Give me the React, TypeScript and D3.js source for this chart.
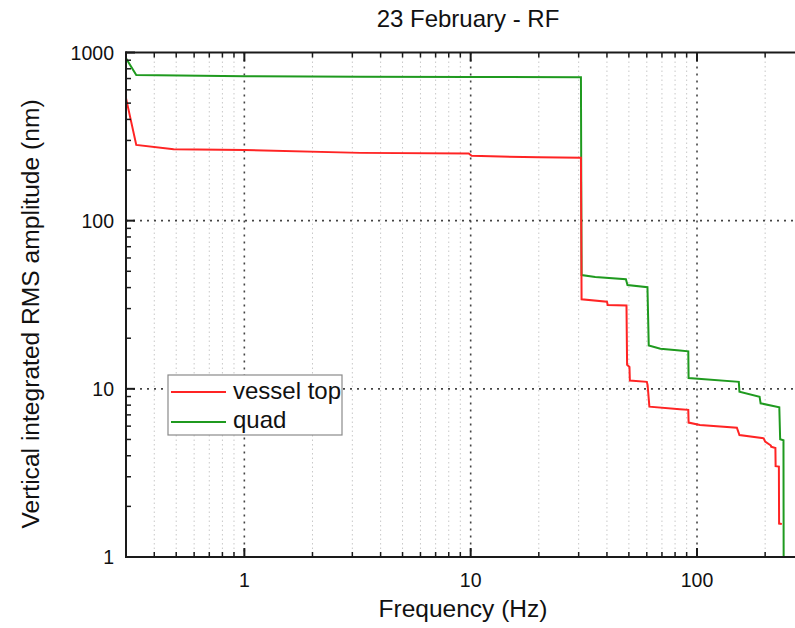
import React from "react";
import * as d3 from "d3";

// Integrated RMS amplitude vs frequency (step curves), log-log
const vesselFreq = [0.3, 0.333, 0.487, 1, 3.25, 9.8, 10.1, 20, 30.7, 30.9, 40, 40.3, 48.8, 49.1, 50.3, 50.5, 60, 60.5, 61.6, 84, 91.5, 91.8, 103, 150, 154, 197, 200, 212, 212.5, 222, 222.5, 230, 230.5, 237];
const vesselVal = [535, 282, 266, 263, 253, 251, 243, 238, 237, 34.1, 33.0, 31.5, 31.3, 13.9, 13.5, 11.2, 11.0, 10.5, 7.83, 7.56, 7.5, 6.3, 6.1, 5.87, 5.31, 5.08, 4.85, 4.6, 4.53, 4.45, 3.47, 3.45, 1.58, 1.57];

const quadFreq = [0.3, 0.333, 1, 3.25, 10, 30.7, 30.9, 35.5, 48.5, 49.3, 60.4, 61.2, 68.9, 84, 91.5, 91.8, 153, 154, 189, 191, 231, 233, 241, 241.5];
const quadVal = [924, 735, 722, 718, 715, 712, 47.5, 46.3, 44.8, 41.4, 40.2, 18.1, 17.3, 16.9, 16.7, 11.6, 11.0, 9.6, 8.98, 8.2, 7.77, 5.01, 4.95, 0.8];

const xMajorTicks = [1, 10, 100];
const xTickLabels = ["1", "10", "100"];
const yMajorTicks = [1000, 100, 10, 1];
const yTickLabels = ["1000", "100", "10", "1"];
const seriesNames = ["vessel top", "quad"];
const seriesColors = ["#ff2424", "#1f9a1f"];

const W = 795;
const H = 628;
const left = 126;
const right = 805;
const top = 52.5;
const bottom = 557;
const FONT = "'Liberation Sans', Arial, Helvetica, sans-serif";

export default function App() {
  const x = d3.scaleLog().domain([0.3, 300]).range([left, right]);
  const y = d3.scaleLog().domain([1, 1000]).range([bottom, top]);

  const xMinor: number[] = [];
  for (const dec of [0.1, 1, 10, 100]) {
    for (let k = 2; k <= 9; k++) {
      const v = +(dec * k).toPrecision(3);
      if (v > 0.3 && v < 300) xMinor.push(v);
    }
  }
  const yMinor: number[] = [];
  for (const dec of [1, 10, 100]) {
    for (let k = 2; k <= 9; k++) yMinor.push(dec * k);
  }

  const line = d3
    .line<[number, number]>()
    .x((d) => x(d[0]))
    .y((d) => y(d[1]));

  const vessel: [number, number][] = vesselFreq.map((f, i) => [f, vesselVal[i]]);
  const quad: [number, number][] = quadFreq.map((f, i) => [f, quadVal[i]]);

  const axisColor = "#1a1a1a";

  return (
    <svg
      width={W}
      height={H}
      style={{ position: "absolute", left: 0, top: 0, background: "#fff" }}
      fontFamily={FONT}
    >
      <defs>
        <clipPath id="plotClip">
          <rect x={left} y={top} width={right - left} height={bottom - top} />
        </clipPath>
      </defs>

      {/* minor vertical grid */}
      {xMinor.map((v) => (
        <line
          key={"gm" + v}
          x1={x(v)}
          x2={x(v)}
          y1={top}
          y2={bottom}
          stroke="#c8c8c8"
          strokeWidth={1}
          strokeDasharray="1.5,3"
        />
      ))}
      {/* major grid */}
      {xMajorTicks.map((v) => (
        <line
          key={"gx" + v}
          x1={x(v)}
          x2={x(v)}
          y1={top}
          y2={bottom}
          stroke="#444"
          strokeWidth={1.6}
          strokeDasharray="2,5"
        />
      ))}
      {[100, 10].map((v) => (
        <line
          key={"gy" + v}
          x1={left}
          x2={right}
          y1={y(v)}
          y2={y(v)}
          stroke="#444"
          strokeWidth={1.6}
          strokeDasharray="2,5"
        />
      ))}

      {/* data */}
      <g clipPath="url(#plotClip)" fill="none" strokeWidth={2} strokeLinejoin="miter">
        <path d={line(quad) || ""} stroke={seriesColors[1]} />
        <path d={line(vessel) || ""} stroke={seriesColors[0]} />
      </g>

      {/* frame */}
      <line x1={left} x2={left} y1={top - 1} y2={bottom + 1} stroke={axisColor} strokeWidth={2} />
      <line x1={left - 1} x2={right} y1={top} y2={top} stroke={axisColor} strokeWidth={2} />
      <line x1={left - 1} x2={right} y1={bottom} y2={bottom} stroke={axisColor} strokeWidth={2} />

      {/* x ticks (inward, top and bottom) */}
      {xMinor.map((v) => (
        <g key={"xt" + v} stroke={axisColor} strokeWidth={1.5}>
          <line x1={x(v)} x2={x(v)} y1={bottom} y2={bottom - 5} />
          <line x1={x(v)} x2={x(v)} y1={top} y2={top + 5} />
        </g>
      ))}
      {xMajorTicks.map((v) => (
        <g key={"xT" + v} stroke={axisColor} strokeWidth={2}>
          <line x1={x(v)} x2={x(v)} y1={bottom} y2={bottom - 9} />
          <line x1={x(v)} x2={x(v)} y1={top} y2={top + 9} />
        </g>
      ))}
      {/* y ticks (inward) */}
      {yMinor.map((v) => (
        <line key={"yt" + v} x1={left} x2={left + 5} y1={y(v)} y2={y(v)} stroke={axisColor} strokeWidth={1.5} />
      ))}
      {yMajorTicks.map((v) => (
        <line key={"yT" + v} x1={left} x2={left + 9} y1={y(v)} y2={y(v)} stroke={axisColor} strokeWidth={2} />
      ))}

      {/* tick labels */}
      {xMajorTicks.map((v, i) => (
        <text key={"xl" + v} x={x(v)} y={587} textAnchor="middle" fontSize={19.5} fill="#111">
          {xTickLabels[i]}
        </text>
      ))}
      {yMajorTicks.map((v, i) => (
        <text
          key={"yl" + v}
          x={114}
          y={y(v) + 7}
          textAnchor="end"
          fontSize={19.5}
          fill="#111"
        >
          {yTickLabels[i]}
        </text>
      ))}

      {/* titles */}
      <text x={468} y={27} textAnchor="middle" fontSize={24} fill="#111">
        23 February - RF
      </text>
      <text x={463} y={617} textAnchor="middle" fontSize={24.5} fill="#111">
        Frequency (Hz)
      </text>
      <text
        transform={`translate(39, 314) rotate(-90)`}
        textAnchor="middle"
        fontSize={24.6}
        fill="#111"
      >
        Vertical integrated RMS amplitude (nm)
      </text>

      {/* legend */}
      <g>
        <rect x={168} y={375} width={174} height={60} fill="#fff" stroke="#8a8a8a" strokeWidth={1.2} />
        {seriesNames.map((name, i) => (
          <g key={name}>
            <line
              x1={171}
              x2={226}
              y1={392 + i * 30}
              y2={392 + i * 30}
              stroke={seriesColors[i]}
              strokeWidth={2}
            />
            <text x={233} y={399 + i * 29} fontSize={24} fill="#111">
              {name}
            </text>
          </g>
        ))}
      </g>
    </svg>
  );
}
